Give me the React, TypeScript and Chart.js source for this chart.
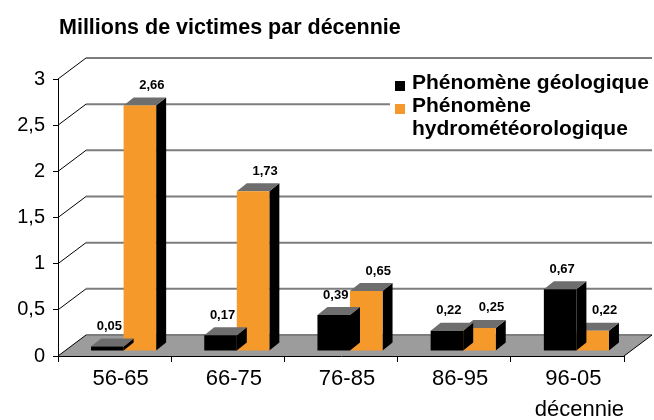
import React, { useEffect, useRef } from 'react';
import { Chart, registerables } from 'chart.js';

Chart.register(...registerables);

const categories = ['56-65', '66-75', '76-85', '86-95', '96-05'];
const geologique = [0.05, 0.17, 0.39, 0.22, 0.67];
const hydrometeo = [2.66, 1.73, 0.65, 0.25, 0.22];
const seriesNames = ['Phénomène géologique', 'Phénomène hydrométéorologique'];
const seriesColors = ['#000000', '#f5992b'];
const titleText = 'Millions de victimes par décennie';
const axisTitle = 'décennie';
const yMin = 0;
const yMax = 3;
const yStep = 0.5;

const FONT = "'Liberation Sans', Arial, Helvetica, sans-serif";
const WALL = { x: 28, y: -21 };
const BAR_SHIFT = { x: 9, y: -5 };
const BAR_DEPTH = { x: 10, y: -8 };
const LABEL_SHIFT = [2, 12];

const fmt = (v: number) => String(v).replace('.', ',');
const fmt2 = (v: number) => v.toFixed(2).replace('.', ',');

const pseudo3d = {
  id: 'pseudo3d',
  beforeDraw(chart: any) {
    const { ctx, chartArea: a, scales } = chart;
    const y = scales.y;
    ctx.save();
    const py0 = y.getPixelForValue(0);
    // floor
    ctx.beginPath();
    ctx.moveTo(a.left, py0);
    ctx.lineTo(a.right, py0);
    ctx.lineTo(a.right + WALL.x, py0 + WALL.y);
    ctx.lineTo(a.left + WALL.x, py0 + WALL.y);
    ctx.closePath();
    ctx.fillStyle = '#9c9c9c';
    ctx.fill();
    // back grid lines
    ctx.strokeStyle = '#7d7d7d';
    ctx.lineWidth = 2;
    y.ticks.forEach((t: any) => {
      const py = y.getPixelForValue(t.value) + WALL.y;
      ctx.beginPath();
      ctx.moveTo(a.left + WALL.x, py);
      ctx.lineTo(a.right + WALL.x, py);
      ctx.stroke();
    });
    // diagonals
    ctx.strokeStyle = '#000';
    ctx.lineWidth = 1;
    y.ticks.forEach((t: any) => {
      const py = y.getPixelForValue(t.value);
      ctx.beginPath();
      ctx.moveTo(a.left, py);
      ctx.lineTo(a.left + WALL.x, py + WALL.y);
      ctx.stroke();
    });
    ctx.beginPath();
    ctx.moveTo(a.right, py0);
    ctx.lineTo(a.right + WALL.x, py0 + WALL.y);
    ctx.stroke();
    ctx.restore();
  },
  beforeDatasetDraw(chart: any, args: any) {
    const { ctx } = chart;
    ctx.save();
    ctx.translate(BAR_SHIFT.x, BAR_SHIFT.y);
    const meta = args.meta;
    meta.data.forEach((el: any) => {
      const { x, y, base, width } = el.getProps(['x', 'y', 'base', 'width'], true);
      const l = x - width / 2;
      const r = x + width / 2;
      // side face
      ctx.beginPath();
      ctx.moveTo(r, y);
      ctx.lineTo(r + BAR_DEPTH.x, y + BAR_DEPTH.y);
      ctx.lineTo(r + BAR_DEPTH.x, base + BAR_DEPTH.y);
      ctx.lineTo(r, base);
      ctx.closePath();
      ctx.fillStyle = '#000';
      ctx.fill();
      // top face
      ctx.beginPath();
      ctx.moveTo(l, y);
      ctx.lineTo(r, y);
      ctx.lineTo(r + BAR_DEPTH.x, y + BAR_DEPTH.y);
      ctx.lineTo(l + BAR_DEPTH.x, y + BAR_DEPTH.y);
      ctx.closePath();
      ctx.fillStyle = '#6e6e6e';
      ctx.fill();
    });
  },
  afterDatasetDraw(chart: any) {
    chart.ctx.restore();
  },
  afterDatasetsDraw(chart: any) {
    const { ctx } = chart;
    ctx.save();
    ctx.fillStyle = '#000';
    ctx.font = `bold 13px ${FONT}`;
    ctx.textAlign = 'center';
    ctx.textBaseline = 'middle';
    chart.data.datasets.forEach((ds: any, i: number) => {
      const meta = chart.getDatasetMeta(i);
      meta.data.forEach((el: any, j: number) => {
        const { x, y } = el.getProps(['x', 'y'], true);
        ctx.fillText(fmt2(ds.data[j]), x + BAR_SHIFT.x + LABEL_SHIFT[i], y + BAR_SHIFT.y + BAR_DEPTH.y - 12);
      });
    });
    ctx.restore();
  },
  afterDraw(chart: any) {
    const { ctx } = chart;
    ctx.save();
    // title
    ctx.fillStyle = '#000';
    ctx.font = `bold 21.5px ${FONT}`;
    ctx.textAlign = 'left';
    ctx.textBaseline = 'alphabetic';
    ctx.fillText(titleText, 59, 34);
    // legend
    ctx.fillStyle = '#fff';
    ctx.fillRect(390, 63, 264, 82);
    ctx.font = `bold 21px ${FONT}`;
    let line = 0;
    chart.data.datasets.forEach((ds: any) => {
      const words = String(ds.label).split(' ');
      const lines: string[] = [];
      let cur = '';
      words.forEach((w) => {
        const test = cur ? cur + ' ' + w : w;
        if (cur && ctx.measureText(test).width > 250) {
          lines.push(cur);
          cur = w;
        } else cur = test;
      });
      if (cur) lines.push(cur);
      const base0 = 89 + line * 23;
      ctx.fillStyle = ds.backgroundColor;
      ctx.fillRect(395, base0 - 8, 10, 10);
      ctx.fillStyle = '#000';
      lines.forEach((t, k) => {
        ctx.fillText(t, 412, base0 + k * 23);
      });
      line += lines.length;
    });
    ctx.restore();
  },
};

export default function App() {
  const ref = useRef<HTMLCanvasElement | null>(null);
  useEffect(() => {
    if (!ref.current) return;
    const chart = new Chart(ref.current, {
      type: 'bar',
      data: {
        labels: categories,
        datasets: [
          { label: seriesNames[0], data: geologique, backgroundColor: seriesColors[0], borderWidth: 0, clip: false } as any,
          { label: seriesNames[1], data: hydrometeo, backgroundColor: seriesColors[1], borderWidth: 0, clip: false } as any,
        ],
      },
      options: {
        responsive: false,
        animation: false,
        devicePixelRatio: 1,
        layout: { padding: { top: 79, right: 30, left: 0, bottom: 0 } },
        datasets: { bar: { categoryPercentage: 0.575, barPercentage: 1 } },
        plugins: {
          legend: { display: false },
          title: { display: false },
          tooltip: { enabled: false },
        },
        scales: {
          x: {
            grid: { drawOnChartArea: false, drawTicks: true, tickLength: 6, color: '#000', offset: true },
            border: { display: true, color: '#000', width: 1 },
            ticks: { color: '#000', font: { family: FONT, size: 22 }, padding: 4, labelOffset: 6, maxRotation: 0, autoSkip: false },
            title: { display: true, text: axisTitle, align: 'end', color: '#000', font: { family: FONT, size: 22 }, padding: { top: 0, bottom: -3 } },
            afterFit: (s: any) => { s.height = 64; },
          },
          y: {
            min: yMin,
            max: yMax,
            ticks: { stepSize: yStep, callback: (v: any) => fmt(Number(v)), color: '#000', font: { family: FONT, size: 20 }, padding: 8 },
            grid: { drawOnChartArea: false, tickLength: 5, color: '#000' },
            border: { display: true, color: '#000', width: 1 },
            afterFit: (s: any) => { s.width = 58; },
          },
        },
      } as any,
      plugins: [pseudo3d],
    });
    return () => chart.destroy();
  }, []);
  return (
    <div style={{ position: 'fixed', left: 0, top: 0, width: 654, height: 420, background: '#fff' }}>
      <canvas ref={ref} width={654} height={420} />
    </div>
  );
}
